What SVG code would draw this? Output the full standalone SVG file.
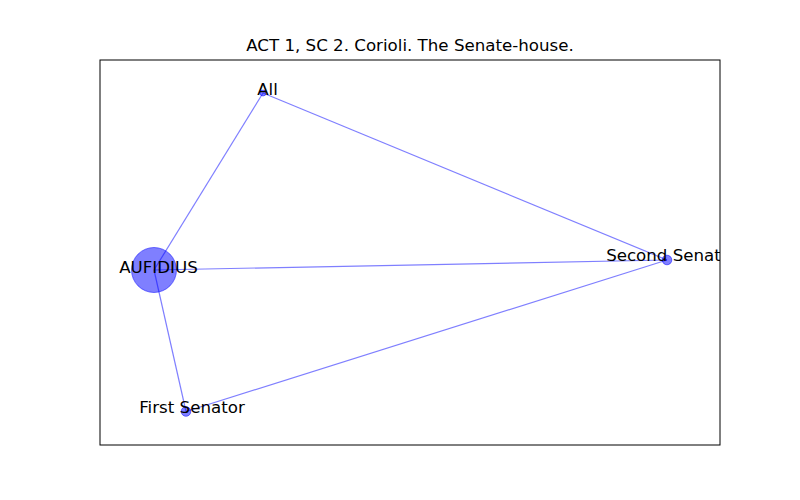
<svg xmlns="http://www.w3.org/2000/svg" width="800" height="500" viewBox="0 0 800 500">
<defs>
<style>
.edge{stroke:#0000ff;stroke-opacity:0.5;stroke-width:1.2;fill:none}
.node{fill:#0000ff;fill-opacity:0.5;stroke:#0000ff;stroke-opacity:0.5;stroke-width:1}
.lbl{font-family:"DejaVu Sans",sans-serif;font-size:16.67px;fill:#000;text-anchor:middle}
.title{font-family:"DejaVu Sans",sans-serif;font-size:16.67px;fill:#000;text-anchor:middle}
</style>
<clipPath id="ax"><rect x="100" y="60" width="620" height="385"/></clipPath>
</defs>
<rect width="800" height="500" fill="#fff"/>
<text class="title" x="410" y="50.7">ACT 1, SC 2. Corioli. The Senate-house.</text>
<rect x="100" y="60" width="620" height="385" fill="none" stroke="#000" stroke-width="1"/>
<g id="connectors" clip-path="url(#ax)">
<line class="edge" x1="154" y1="270" x2="263" y2="93"/>
<line class="edge" x1="154" y1="270" x2="667" y2="260"/>
<line class="edge" x1="154" y1="270" x2="186" y2="411.5"/>
<line class="edge" x1="263" y1="93" x2="667" y2="260"/>
<line class="edge" x1="186" y1="411.5" x2="667" y2="260"/>
</g>
<g clip-path="url(#ax)">
<g id="node-aufidius">
<circle class="node" cx="154" cy="270" r="22.5"/>
<text class="lbl" x="158.5" y="272.7">AUFIDIUS</text>
</g>
<g id="node-all">
<circle class="node" cx="263" cy="93" r="3"/>
<text class="lbl" x="267.5" y="95">All</text>
</g>
<g id="node-second-senator">
<circle class="node" cx="667" cy="260" r="4.8"/>
<text class="lbl" x="672" y="260.7">Second Senator</text>
</g>
<g id="node-first-senator">
<circle class="node" cx="186" cy="411.5" r="4.8"/>
<text class="lbl" x="192" y="413.3">First Senator</text>
</g>
</g>
</svg>
